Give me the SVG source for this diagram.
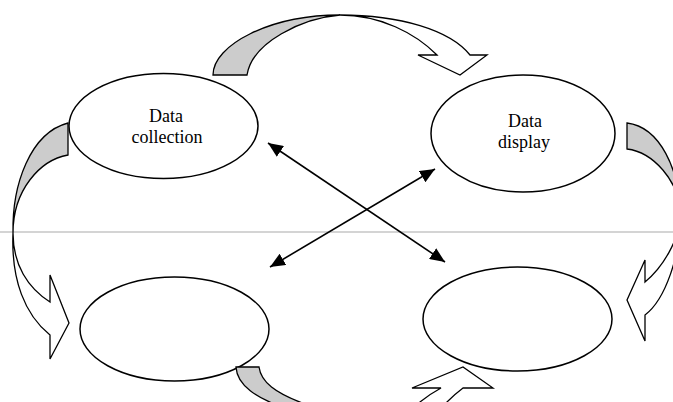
<svg xmlns="http://www.w3.org/2000/svg" width="673" height="402" viewBox="0 0 673 402">
<style>
.node{fill:#fff;stroke:#000;stroke-width:1.5}
.lbl{font-family:"Liberation Serif","Times New Roman",serif;font-size:18px;fill:#000;text-anchor:middle}
.back{fill:#cccccc;stroke:#000;stroke-width:1.3;stroke-linejoin:miter}
.front{fill:#fff;stroke:#000;stroke-width:1.3;stroke-linejoin:miter}
.dbl{stroke:#000;stroke-width:1.6;fill:none;marker-start:url(#ah);marker-end:url(#ah)}
</style>
<defs>
<marker id="ah" viewBox="0 0 15 13" refX="15" refY="6.5" markerWidth="15" markerHeight="13" markerUnits="userSpaceOnUse" orient="auto-start-reverse">
<path d="M0,0 L15,6.5 L0,13 Z" fill="#000"/>
</marker>
</defs>
<rect width="673" height="402" fill="#fff"/>
<line x1="0" y1="232" x2="673" y2="232" stroke="#d4d4d4" stroke-width="2"/>
<g id="node-data-collection">
<ellipse class="node" cx="163.5" cy="126" rx="94.5" ry="52.5"/>
<text class="lbl" x="166" y="122">Data</text>
<text class="lbl" x="167" y="143">collection</text>
</g>
<g id="node-data-display">
<ellipse class="node" cx="523" cy="133.5" rx="92" ry="58.5"/>
<text class="lbl" x="525" y="127">Data</text>
<text class="lbl" x="524" y="148">display</text>
</g>
<g id="node-bottom-left">
<ellipse class="node" cx="174.5" cy="329" rx="94.5" ry="52"/>
</g>
<g id="node-bottom-right">
<ellipse class="node" cx="517.5" cy="319" rx="94.5" ry="52"/>
</g>
<g id="connectors">
<!-- top curved arrow -->
<path class="back" d="M213,75 C213,45 270,15 340,15 C303,18 252,42 247,75 Z"/>
<path class="front" d="M340,15 C400,15 450,30 470,55 L487,55 L460,75 L418,55 L437,55 C415,33 380,15 340,15 Z"/>
<!-- left curved arrow -->
<path class="back" d="M68,123 L68,155 C40,160 13,190 13,233 C12,185 30,133 68,123 Z"/>
<path class="front" d="M13,233 C13,265 28,288 50,302 L50,275 L69,323 L50,359 L50,335 C25,315 11,280 13,233 Z"/>
<!-- right curved arrow -->
<path class="back" d="M627,123 L627,149 C652,152 680,180 680,215 C680,170 660,127 627,123 Z"/>
<path class="front" d="M680,215 C680,240 662,268 645,282 L645,260 L627,300 L645,341 L645,315 C665,300 681,255 680,215 Z"/>
<!-- bottom-left curved arrow -->
<path class="back" d="M236,367 L259,367 C261,382 275,393 305,404 L290,410 C255,398 237,385 236,367 Z"/>
<!-- bottom-right curved arrow -->
<path class="front" d="M441,388 L412,388 L463,367 L493,388 L463,388 Q455,394 447,402 L440,410 L408,410 L420,402 Q430,394 441,388 Z"/>
<!-- double-headed arrows -->
<line class="dbl" x1="268" y1="143" x2="445" y2="262"/>
<line class="dbl" x1="435" y1="169" x2="270" y2="267"/>
</g>
</svg>
